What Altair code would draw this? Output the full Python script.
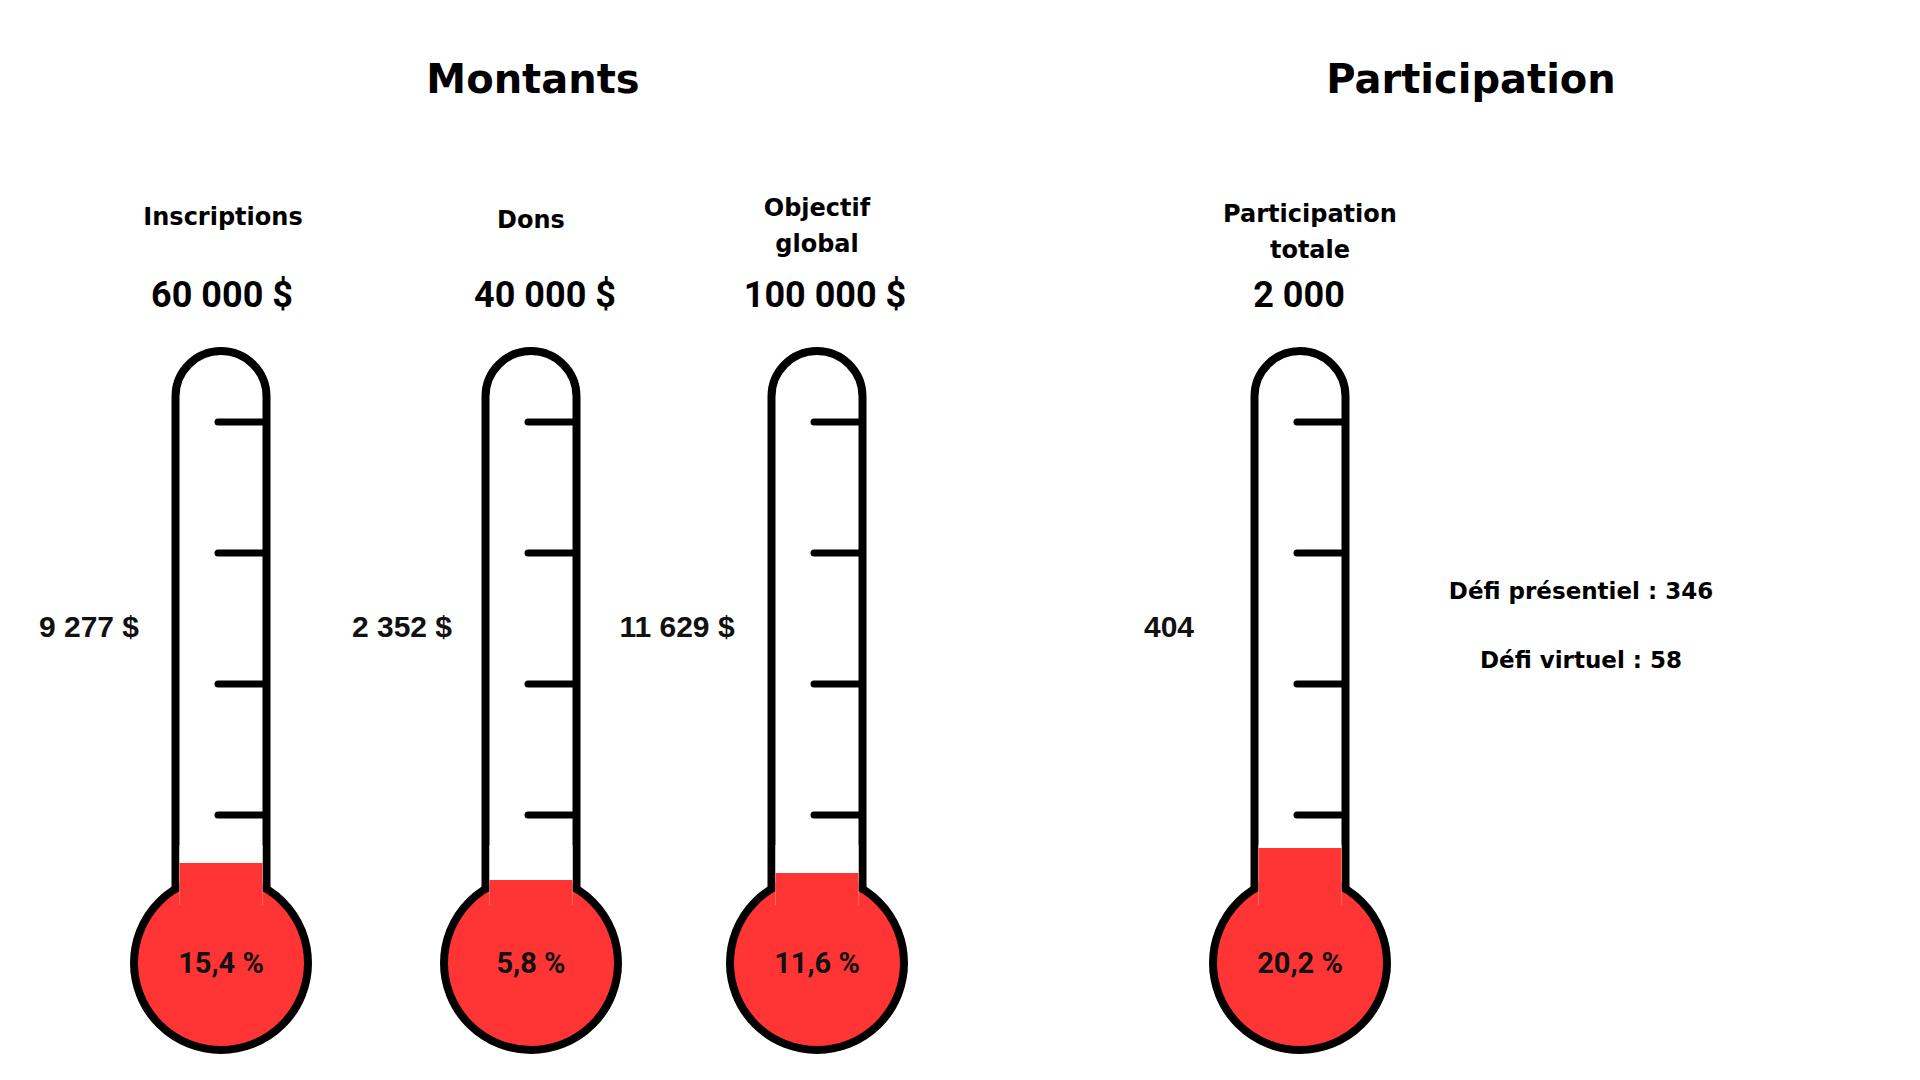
import altair as alt
import pandas as pd

# ---------------- data ----------------
sections = ["Montants", "Participation"]
categories = ["Inscriptions", "Dons", "Objectif\nglobal", "Participation\ntotale"]
objectifs = ["60 000 $", "40 000 $", "100 000 $", "2 000"]
actuels = ["9 277 $", "2 352 $", "11 629 $", "404"]
pourcentages = [15.4, 5.8, 11.6, 20.2]
details = ["Défi présentiel : 346", "Défi virtuel : 58"]

# ---------------- layout (canvas units, 1920 x 1080) ----------------
W, H = 1920, 1080
centres = [221, 531, 817, 1300]          # thermometer axis
niveaux = [863, 880, 873, 848]           # top of the red column
section_x = [533, 1471]
section_y = 81
cat_x = [223, 531, 817, 1310]
cat_y = [218, 221, 209, 215]
obj_x = [222, 545, 825, 1299]
obj_y = 296
act_x = [89, 402, 677, 1169]
act_y = 628
det_x = 1581
det_y = [592, 661]
tick_y = [422, 553, 684, 815]
tube_top, tube_bot = 351, 915
tube_half, inner_half = 45.5, 41.5
bulb_y, bulb_r = 963, 87
col_bot = 905

RED = "#ff3434"

xs = alt.Scale(domain=[0, W], nice=False, zero=False)
ys = alt.Scale(domain=[0, H], nice=False, zero=False, reverse=True)

def X(f="x"):
    return alt.X(f"{f}:Q", scale=xs, axis=None)

def Y(f="y"):
    return alt.Y(f"{f}:Q", scale=ys, axis=None)

# tubes
tubes = pd.DataFrame({
    "x": [c - tube_half for c in centres],
    "x2": [c + tube_half for c in centres],
    "y": [tube_top] * 4,
    "y2": [tube_bot] * 4,
})
tube_layer = alt.Chart(tubes).mark_rect(
    fill="white", stroke="black", strokeWidth=8,
    cornerRadiusTopLeft=tube_half, cornerRadiusTopRight=tube_half,
).encode(x=X(), x2="x2:Q", y=Y(), y2="y2:Q")

# ticks
ticks = pd.DataFrame([
    {"x": c - 3, "x2": c + tube_half, "y": t}
    for c in centres for t in tick_y
])
tick_layer = alt.Chart(ticks).mark_rule(
    stroke="black", strokeWidth=7, strokeCap="round"
).encode(x=X(), x2="x2:Q", y=Y())

# bulbs (symbol size = (2r)^2)
bulbs = pd.DataFrame({"x": centres, "y": [bulb_y] * 4})
bulb_layer = alt.Chart(bulbs).mark_circle(
    size=(2 * bulb_r) ** 2, fill=RED, stroke="black", strokeWidth=8, opacity=1
).encode(x=X(), y=Y())

# mask hiding the bulb outline inside the tube
mask = pd.DataFrame({
    "x": [c - inner_half for c in centres],
    "x2": [c + inner_half for c in centres],
    "y": [845] * 4,
    "y2": [col_bot] * 4,
})
mask_layer = alt.Chart(mask).mark_rect(fill="white").encode(
    x=X(), x2="x2:Q", y=Y(), y2="y2:Q")

# red column
cols = pd.DataFrame({
    "x": [c - inner_half for c in centres],
    "x2": [c + inner_half for c in centres],
    "y": niveaux,
    "y2": [col_bot] * 4,
})
col_layer = alt.Chart(cols).mark_rect(fill=RED).encode(
    x=X(), x2="x2:Q", y=Y(), y2="y2:Q")

# texts
pct = pd.DataFrame({
    "x": centres, "y": [bulb_y + 1] * 4,
    "t": [f"{p:.1f}".replace(".", ",") + " %" for p in pourcentages],
})
pct_layer = alt.Chart(pct).mark_text(
    font="Roboto", fontWeight="bold", fontSize=29, color="#111111", baseline="middle"
).encode(x=X(), y=Y(), text="t:N")

sec = pd.DataFrame({"x": section_x, "y": [section_y] * 2, "t": sections})
sec_layer = alt.Chart(sec).mark_text(
    font="DejaVu Sans", fontWeight="bold", fontSize=40, color="black", baseline="middle"
).encode(x=X(), y=Y(), text="t:N")

cat = pd.DataFrame({"x": cat_x, "y": cat_y, "t": categories})
cat_layer = alt.Chart(cat).mark_text(
    font="DejaVu Sans", fontWeight="bold", fontSize=24, color="black",
    baseline="middle", lineBreak="\n", lineHeight=36
).encode(x=X(), y=Y(), text="t:N")

obj = pd.DataFrame({"x": obj_x, "y": [obj_y] * 4, "t": objectifs})
obj_layer = alt.Chart(obj).mark_text(
    font="Roboto", fontWeight="bold", fontSize=36, color="black", baseline="middle"
).encode(x=X(), y=Y(), text="t:N")

act = pd.DataFrame({"x": act_x, "y": [act_y] * 4, "t": actuels})
act_layer = alt.Chart(act).mark_text(
    font="Liberation Sans", fontWeight="bold", fontSize=30, color="#111111", baseline="middle"
).encode(x=X(), y=Y(), text="t:N")

det = pd.DataFrame({"x": [det_x] * 2, "y": det_y, "t": details})
det_layer = alt.Chart(det).mark_text(
    font="DejaVu Sans", fontWeight="bold", fontSize=23, color="black", baseline="middle"
).encode(x=X(), y=Y(), text="t:N")

chart = alt.layer(
    tube_layer, bulb_layer, mask_layer, col_layer, tick_layer,
    pct_layer, sec_layer, cat_layer, obj_layer, act_layer, det_layer,
).properties(
    width=W, height=H, padding=0, autosize=alt.AutoSizeParams(type="none"),
    background="white",
).configure_view(stroke=None)

chart.save("out.html", embed_options={"renderer": "svg", "actions": False})
